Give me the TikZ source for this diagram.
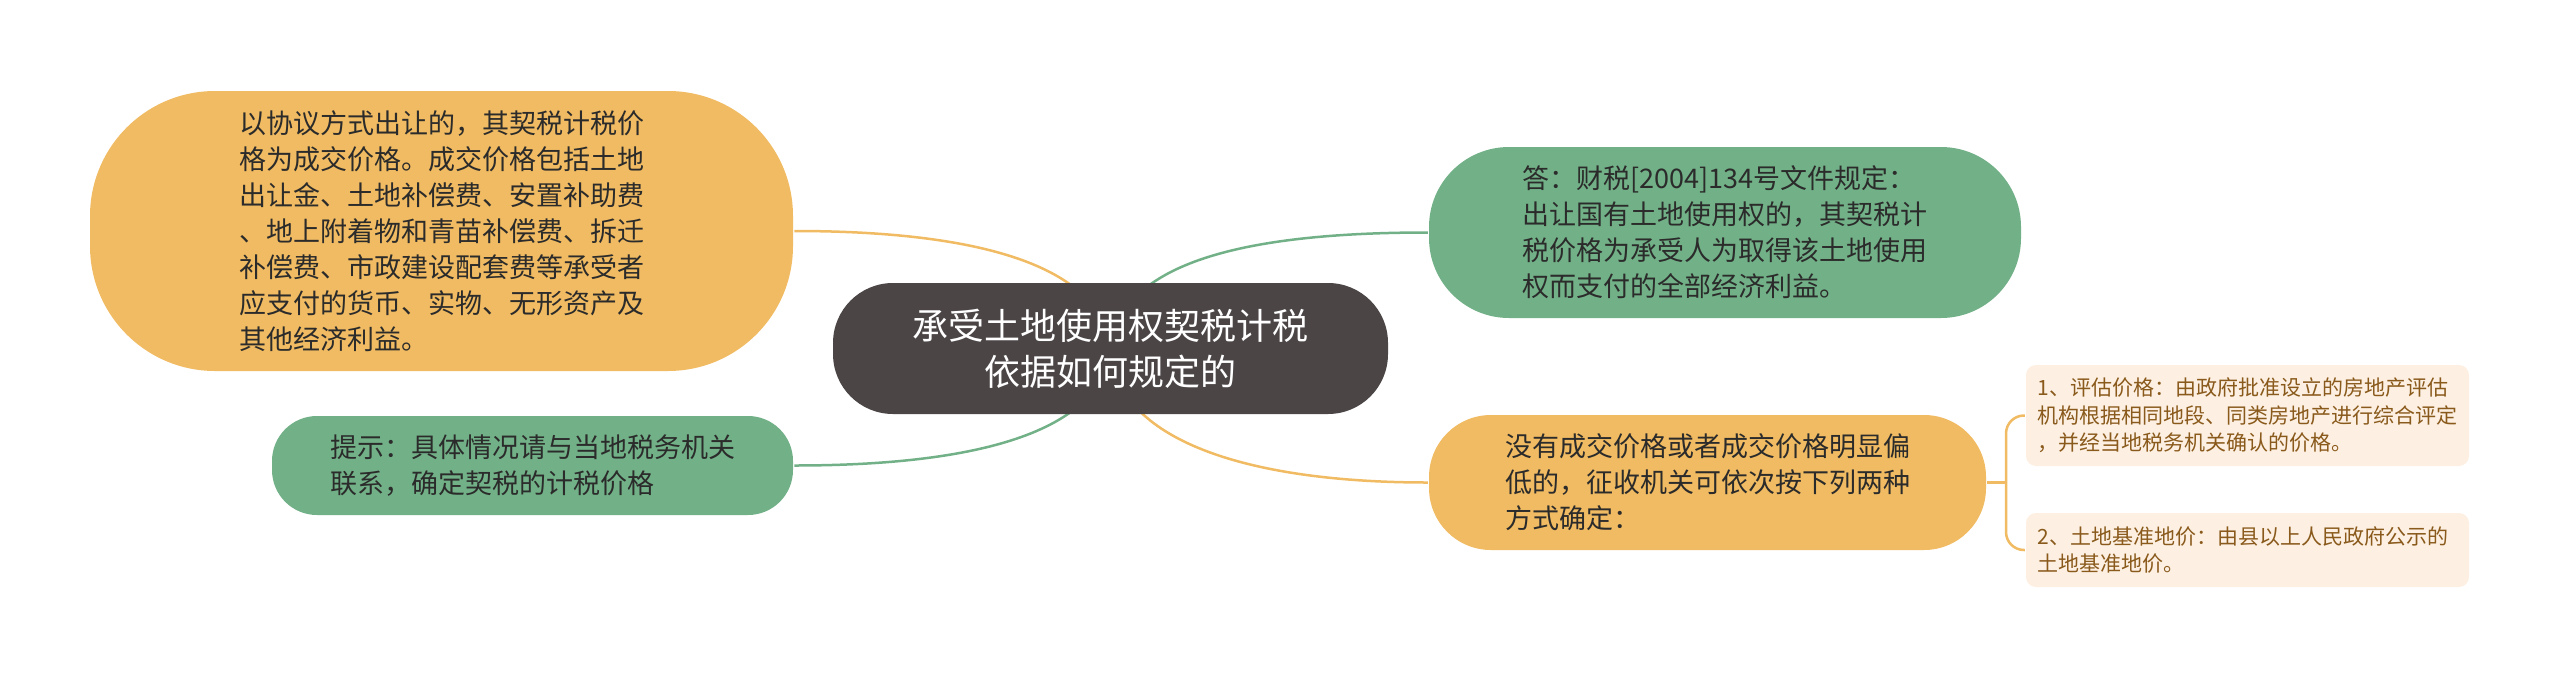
\documentclass[tikz,border=0pt]{standalone}
\usepackage{fontspec}
\setmainfont{Noto Sans CJK SC}
\usetikzlibrary{backgrounds}

\definecolor{mapOrange}{HTML}{F0BB62}
\definecolor{mapGreen}{HTML}{72B187}
\definecolor{mapRoot}{HTML}{4B4546}
\definecolor{mapLeaf}{HTML}{FDF0E2}
\definecolor{mapText}{HTML}{2B2B2B}
\definecolor{leafText}{HTML}{8A5A1C}

\tikzset{every picture/.style={line width=2.5pt}}
\tikzset{
  topic/.style={inner sep=0pt, align=left, text=mapText, font=\fontsize{27}{36}\selectfont},
  orangetopic/.style={topic, fill=mapOrange},
  greentopic/.style={topic, fill=mapGreen},
  roottopic/.style={inner sep=0pt, align=center, fill=mapRoot, text=white, font=\fontsize{36}{46}\selectfont},
  leaftopic/.style={inner sep=0pt, align=left, fill=mapLeaf, text=leafText, rounded corners=10pt,
    text width=420pt, font=\fontsize{21}{27.5}\selectfont},
  orangelink/.style={draw=mapOrange, line width=2.5pt},
  greenlink/.style={draw=mapGreen, line width=2.5pt}
}

\begin{document}
\begin{tikzpicture}[x=1pt, y=-1pt]
    \useasboundingbox (0,0) rectangle (2560,678);
    % central topic
    \node[roottopic, minimum width=555pt, minimum height=131pt, rounded corners=60pt] (root) at (1110.5,348.5)
        {承受土地使用权契税计税\\依据如何规定的};
    % left side
    \node[orangetopic, minimum width=703pt, minimum height=280pt, rounded corners=125pt] (lt) at (441.5,231)
        {以协议方式出让的，其契税计税价\\格为成交价格。成交价格包括土地\\出让金、土地补偿费、安置补助费\\、地上附着物和青苗补偿费、拆迁\\补偿费、市政建设配套费等承受者\\应支付的货币、实物、无形资产及\\其他经济利益。};
    \node[greentopic, minimum width=521pt, minimum height=99pt, rounded corners=45pt] (lg) at (532.5,465.5)
        {提示：具体情况请与当地税务机关\\联系，确定契税的计税价格};
    % right side
    \node[greentopic, minimum width=592pt, minimum height=171pt, rounded corners=80pt] (rg) at (1725,232.5)
        {答：财税[2004]134号文件规定：\\出让国有土地使用权的，其契税计\\税价格为承受人为取得该土地使用\\权而支付的全部经济利益。};
    \node[orangetopic, minimum width=557pt, minimum height=135pt, rounded corners=62pt] (ro) at (1707.5,482.5)
        {没有成交价格或者成交价格明显偏\\低的，征收机关可依次按下列两种\\方式确定：};
    \node[leaftopic, minimum width=443pt, minimum height=101pt] (leafa) at (2247.5,415.5)
        {1、评估价格：由政府批准设立的房地产评估\\机构根据相同地段、同类房地产进行综合评定\\，并经当地税务机关确认的价格。};
    \node[leaftopic, minimum width=443pt, minimum height=74pt] (leafb) at (2247.5,550)
        {2、土地基准地价：由县以上人民政府公示的\\土地基准地价。};
    \coordinate (fork) at (2006,482.5);

    \begin{scope}[on background layer]
        \draw[orangelink] (root.center) .. controls +(-10,-89) and +(167,0) .. (lt.east);
        \draw[greenlink] (root.center) .. controls +(-10,89) and +(167,0) .. (lg.east);
        \draw[greenlink] (root.center) .. controls +(10,-87) and +(-180,0) .. (rg.west);
        \draw[orangelink] (root.center) .. controls +(5,92) and +(-180,0) .. (ro.west);
    \end{scope}
    \draw[orangelink] (ro.east) -- (fork);
    \draw[orangelink, rounded corners=18pt] (leafa.west) -| (fork) |- (leafb.west);
\end{tikzpicture}
\end{document}
